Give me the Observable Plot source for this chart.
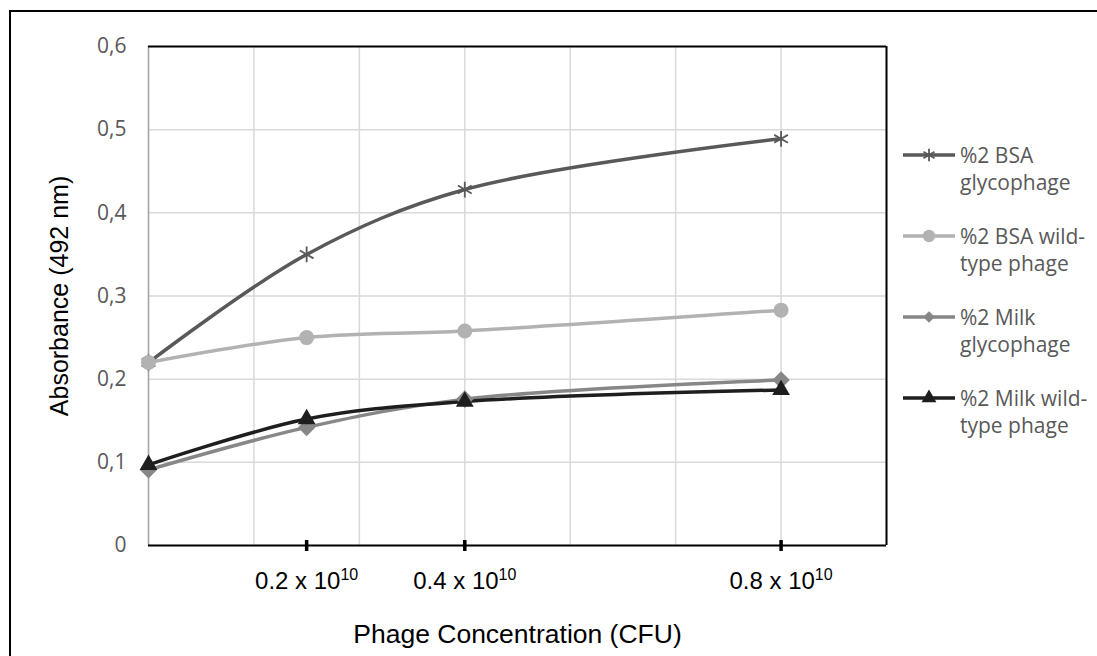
<!DOCTYPE html>
<html><head><meta charset="utf-8">
<script src="https://cdn.jsdelivr.net/npm/d3@7"></script>
<script src="https://cdn.jsdelivr.net/npm/@observablehq/plot@0.6"></script>
<style>
html,body{margin:0;padding:0;background:#fff;overflow:hidden;width:1097px;height:656px;}
#wrap{position:relative;width:1097px;height:656px;overflow:hidden;}
#border{position:absolute;left:9px;top:10px;width:1300px;height:900px;border:2px solid #000;box-sizing:border-box;}
#wrap svg{position:absolute;left:0;top:0;}
</style></head><body><div id="wrap"><div id="border"></div></div>
<script>
const concentration = [0, 0.2, 0.4, 0.8];
const seriesNames = ["%2 BSA glycophage", "%2 BSA wild-type phage", "%2 Milk glycophage", "%2 Milk wild-type phage"];
const legendLines = [["%2 BSA", "glycophage"], ["%2 BSA wild-", "type phage"], ["%2 Milk", "glycophage"], ["%2 Milk wild-", "type phage"]];
const bsaGlyco = [0.22, 0.35, 0.428, 0.489];
const bsaWild = [0.22, 0.25, 0.258, 0.283];
const milkGlyco = [0.091, 0.142, 0.176, 0.199];
const milkWild = [0.097, 0.152, 0.173, 0.187];
const yTicks = [0, 0.1, 0.2, 0.3, 0.4, 0.5, 0.6];
const yTickLabels = ["0", "0,1", "0,2", "0,3", "0,4", "0,5", "0,6"];
const xTicks = [0.2, 0.4, 0.8];
const xTickMantissa = ["0.2", "0.4", "0.8"];
const xTickExponent = "10";
const xTitle = "Phage Concentration (CFU)";
const yTitle = "Absorbance (492 nm)";
const colors = ["#595959", "#b2b2b2", "#878787", "#1e1e1e"];
const symbols = ["asterisk", "circle", "square", "triangle"];
const rotations = [0, 0, 45, 0];
const radii = [7.5, 7.5, 7.0, 6.6];
const legendRadii = [6, 6.2, 4.6, 5.5];

const values = [bsaGlyco, bsaWild, milkGlyco, milkWild];
const xMax = 0.8 * 7 / 6;
const xGrid = d3.range(8).map(i => i * xMax / 7);
const bySeries = values.map((vals, s) => vals.map((v, i) => ({series: seriesNames[s], x: concentration[i], y: v})));

const lineMarks = bySeries.map((d, s) => Plot.line(d, {x: "x", y: "y", stroke: colors[s], strokeWidth: 3.5, curve: "catmull-rom"}));
const dotMarks = bySeries.map((d, s) => symbols[s] === "asterisk"
  ? Plot.dot(d, {x: "x", y: "y", symbol: "asterisk", r: radii[s], stroke: colors[s], fill: "none", strokeWidth: 1.8})
  : Plot.dot(d, {x: "x", y: "y", symbol: symbols[s], rotate: rotations[s], r: radii[s], fill: colors[s], stroke: "none"}));

const chart = Plot.plot({
  width: 1097, height: 656,
  marginLeft: 148, marginRight: 211, marginTop: 46, marginBottom: 111,
  x: {domain: [0, xMax]},
  y: {domain: [0, 0.6]},
  style: {background: "transparent", overflow: "visible"},
  marks: [
    Plot.gridX(xGrid, {stroke: "#d9d9d9", strokeOpacity: 1, strokeWidth: 1.5}),
    Plot.gridY(yTicks, {stroke: "#d9d9d9", strokeOpacity: 1, strokeWidth: 1.5}),
    Plot.ruleX([0], {stroke: "#a6a6a6", strokeWidth: 1.5}),
    Plot.ruleX([xMax], {stroke: "#000", strokeWidth: 2}),
    Plot.ruleY([0.6], {stroke: "#000", strokeWidth: 2}),
    Plot.ruleY([0], {stroke: "#000", strokeWidth: 2}),
    Plot.ruleX(xTicks, {y1: 0, y2: 0, insetTop: -5, insetBottom: -6, stroke: "#000", strokeWidth: 3.5}),
    Plot.axisY(yTicks, {tickSize: 0, tickPadding: 22, tickFormat: d => yTickLabels[yTicks.indexOf(d)],
      fontSize: 21, fontFamily: "Open Sans", fill: "#595959", label: null}),
    Plot.axisX(xTicks, {tickSize: 0, tickPadding: 26, tickFormat: d => xTickMantissa[xTicks.indexOf(d)] + " x 10",
      fontSize: 24, fontFamily: "Liberation Sans, Arial, sans-serif", fill: "#000", label: null}),
    ...lineMarks,
    ...dotMarks,
    Plot.text([xTitle], {text: d => d, frameAnchor: "bottom", dy: 97, lineAnchor: "bottom", textAnchor: "middle",
      fontSize: 26.5, fontFamily: "Liberation Sans, Arial, sans-serif", fill: "#000"}),
    Plot.text([yTitle], {text: d => d, frameAnchor: "left", dx: -81, rotate: -90, lineAnchor: "bottom", textAnchor: "middle",
      fontSize: 25, fontFamily: "Liberation Sans, Arial, sans-serif", fill: "#000"})
  ]
});

// superscript exponent on x tick labels
d3.select(chart).selectAll('g[aria-label="x-axis tick label"] text').each(function() {
  d3.select(this).append("tspan").attr("dy", -9).attr("font-size", 16).text(xTickExponent);
});
document.getElementById("wrap").appendChild(chart);

// legend
const leg = d3.create("svg").attr("width", 1097).attr("height", 656);
const legLineY = seriesNames.map((_, i) => 155 + i * 81);
seriesNames.forEach((name, s) => {
  const g = leg.append("g").attr("aria-label", name);
  const y = legLineY[s];
  g.append("line").attr("x1", 903).attr("x2", 955).attr("y1", y).attr("y2", y)
    .attr("stroke", colors[s]).attr("stroke-width", 3.5);
  const typ = {asterisk: d3.symbolAsterisk, circle: d3.symbolCircle, square: d3.symbolSquare, triangle: d3.symbolTriangle}[symbols[s]];
  const r = legendRadii[s];
  const p = g.append("path").attr("transform", `translate(929,${y}) rotate(${rotations[s]})`).attr("d", d3.symbol(typ, Math.PI * r * r)());
  if (symbols[s] === "asterisk") p.attr("fill", "none").attr("stroke", colors[s]).attr("stroke-width", 1.8);
  else p.attr("fill", colors[s]);
  legendLines[s].forEach((t, k) => {
    g.append("text").attr("x", 960).attr("y", y + 7.5 + k * 27.5)
      .attr("font-family", "Open Sans").attr("font-size", 21).attr("fill", "#595959").text(t);
  });
});
document.getElementById("wrap").appendChild(leg.node());
</script>
</body></html>
